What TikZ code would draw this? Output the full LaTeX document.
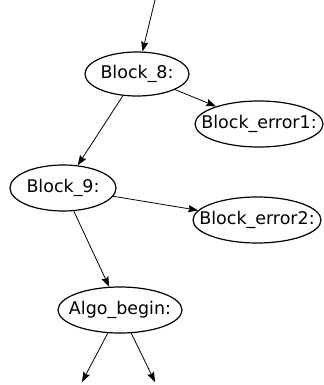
\documentclass[tikz,border=0pt]{standalone}
\usepackage{fontspec}
\setmainfont{DejaVu Sans}
\usetikzlibrary{arrows.meta,shapes.geometric}
\tikzset{>={Stealth[length=7.5pt,width=5.5pt,inset=1.2pt]}}
\tikzset{blk/.style={draw, ellipse, line width=0.9pt, inner xsep=-20pt, inner ysep=0pt, minimum height=34.5pt, font=\fontsize{13.1}{15}\selectfont}}
\tikzset{edge/.style={->, line width=0.6pt}}

\begin{document}
\begin{tikzpicture}[x=0.75pt, y=-0.75pt]
    \useasboundingbox (0,0) rectangle (324,385);
	\node [blk, minimum width=78pt, minimum height=33pt] (b8) at (137,74) {Block\_8:};
	\node [blk, minimum width=96pt] (err1) at (259,124) {Block\_error1:};
	\node [blk, minimum width=79.5pt] (b9) at (63,188) {Block\_9:};
	\node [blk, minimum width=96pt] (err2) at (257,220) {Block\_error2:};
	\node [blk, minimum width=93pt] (algo) at (120,310) {Algo\_begin:};
	\coordinate (in) at (155,0);
	\coordinate (outl) at (82,382);
	\coordinate (outr) at (155,382);
	\draw [edge] (in) -- (b8);
	\draw [edge] (b8) -- (err1);
	\draw [edge] (b8) -- (b9);
	\draw [edge] (b9) -- (err2);
	\draw [edge] (b9) -- (algo);
	\draw [edge] (algo) -- (outl);
	\draw [edge] (algo) -- (outr);
\end{tikzpicture}
\end{document}
